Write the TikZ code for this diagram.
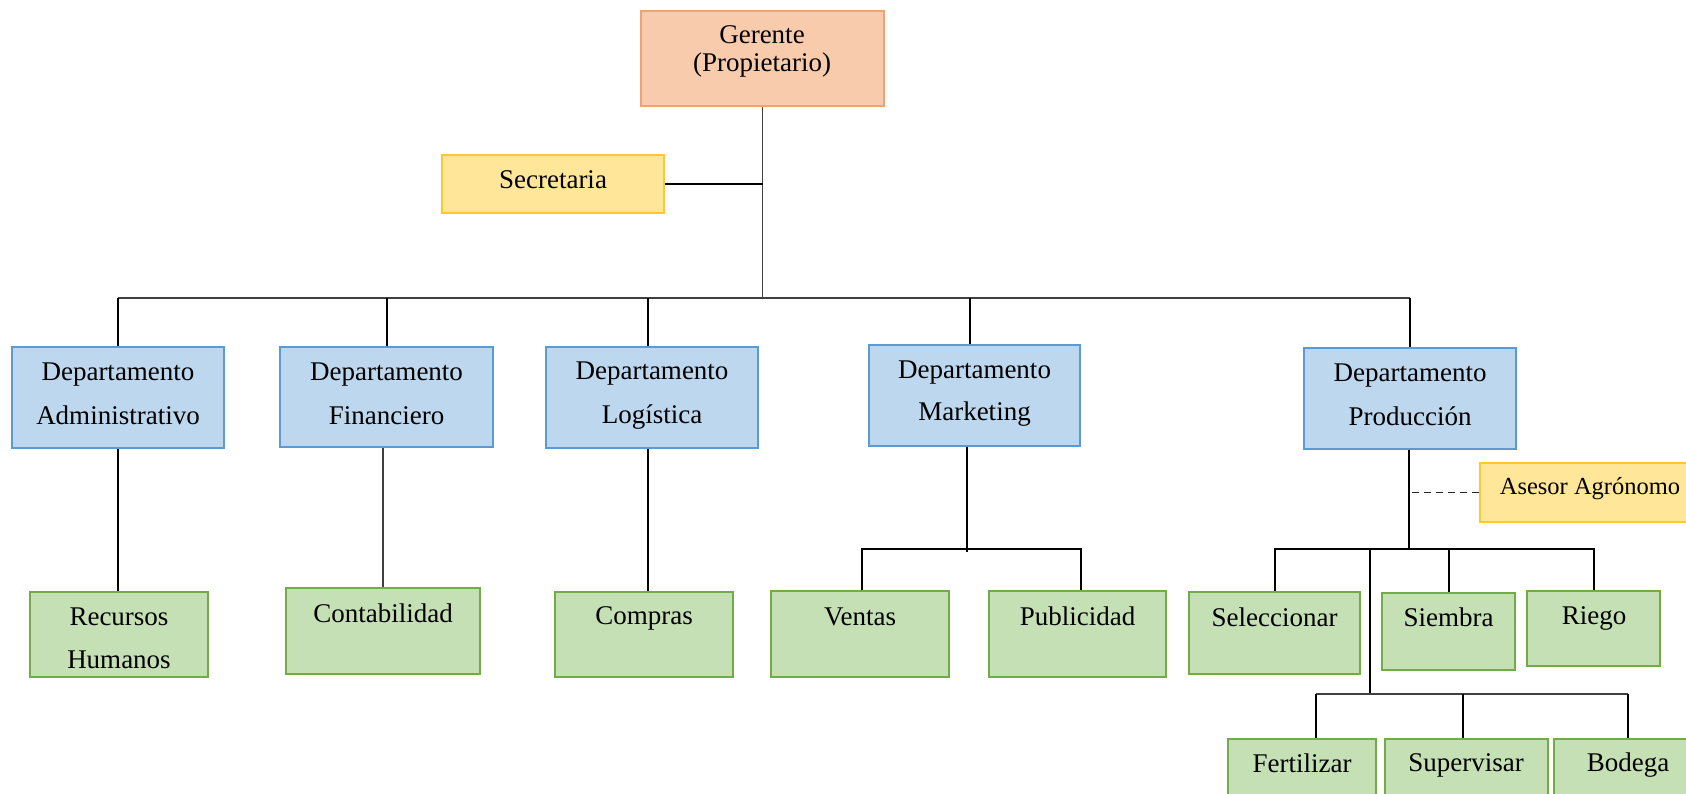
\documentclass[tikz,border=0pt]{standalone}
\usepackage{fontspec}
\setmainfont{Liberation Serif}
\definecolor{gerfill}{HTML}{F8CBAD}
\definecolor{gerdraw}{HTML}{F1A271}
\definecolor{secfill}{HTML}{FFE699}
\definecolor{secdraw}{HTML}{FFC82E}
\definecolor{depfill}{HTML}{BDD7EE}
\definecolor{depdraw}{HTML}{5B9BD5}
\definecolor{grnfill}{HTML}{C5E0B4}
\definecolor{grndraw}{HTML}{70AD47}
\newcommand\mystr{\rule[-4pt]{0pt}{22pt}}
\begin{document}
\begin{tikzpicture}[x=1pt,y=-1pt,
  orgbox/.style={draw, line width=1.5pt, rectangle, inner sep=0pt},
  gerbox/.style={orgbox, draw=gerdraw, fill=gerfill},
  secbox/.style={orgbox, draw=secdraw, fill=secfill},
  depbox/.style={orgbox, draw=depdraw, fill=depfill},
  grnbox/.style={orgbox, draw=grndraw, fill=grnfill},
  lbl/.style={inner sep=0pt, align=center, yshift=-2.5pt, font=\fontsize{27}{44}\selectfont},
  conn/.style={line width=2pt, black},
  thinconn/.style={line width=1.4pt, black!75},
  dashconn/.style={line width=1.8pt, black!85, dash pattern=on 7pt off 5pt}]
\useasboundingbox (0,0) rectangle (1686,793);
\fill[white] (0,0) rectangle (1686,793);

% boxes
\node[gerbox, minimum width=243pt, minimum height=95pt] (ger) at (762.5,58.5) {};
\node[secbox, minimum width=222pt, minimum height=58pt] (sec) at (553,184) {};
\node[depbox, minimum width=212pt, minimum height=101pt] (adm) at (118,397.5) {};
\node[depbox, minimum width=213pt, minimum height=100pt] (fin) at (386.5,397) {};
\node[depbox, minimum width=212pt, minimum height=101pt] (log) at (652,397.5) {};
\node[depbox, minimum width=211pt, minimum height=101pt] (mkt) at (974.5,395.5) {};
\node[depbox, minimum width=212pt, minimum height=101pt] (prod) at (1410,398.5) {};
\node[secbox, minimum width=220pt, minimum height=59pt] (ase) at (1590,492.5) {};
\node[grnbox, minimum width=178pt, minimum height=85pt] (rh) at (119,634.5) {};
\node[grnbox, minimum width=194pt, minimum height=86pt] (cont) at (383,631) {};
\node[grnbox, minimum width=178pt, minimum height=85pt] (comp) at (644,634.5) {};
\node[grnbox, minimum width=178pt, minimum height=86pt] (vent) at (860,634) {};
\node[grnbox, minimum width=177pt, minimum height=86pt] (pub) at (1077.5,634) {};
\node[grnbox, minimum width=171pt, minimum height=82pt] (sel) at (1274.5,633) {};
\node[grnbox, minimum width=133pt, minimum height=77pt] (siem) at (1448.5,631.5) {};
\node[grnbox, minimum width=133pt, minimum height=75pt] (rieg) at (1593.5,628.5) {};
\node[grnbox, minimum width=148pt, minimum height=71pt] (fert) at (1302,774.5) {};
\node[grnbox, minimum width=163pt, minimum height=71pt] (sup) at (1466.5,774.5) {};
\node[grnbox, minimum width=148pt, minimum height=71pt] (bod) at (1628,774.5) {};

% texts
\node[lbl, font=\fontsize{27}{28}\selectfont] (tger) at (762,49) {\mystr Gerente\\\mystr (Propietario)};
\node[lbl] (tsec) at (553,179) {\mystr Secretaria};
\node[lbl] (tadm) at (118,393) {\mystr Departamento\\\mystr Administrativo};
\node[lbl] (tfin) at (386.5,393) {\mystr Departamento\\\mystr Financiero};
\node[lbl] (tlog) at (652,392.5) {\mystr Departamento\\\mystr Logística};
\node[lbl, font=\fontsize{27}{42}\selectfont] (tmkt) at (974.5,391) {\mystr Departamento\\\mystr Marketing};
\node[lbl] (tprod) at (1410,394) {\mystr Departamento\\\mystr Producción};
\node[lbl, font=\fontsize{24.5}{30}\selectfont] (tase) at (1590,486) {\mystr Asesor Agrónomo};
\node[lbl, font=\fontsize{27}{43}\selectfont] (trh) at (119,637.5) {\mystr Recursos\\\mystr Humanos};
\node[lbl] (tcont) at (383,613) {\mystr Contabilidad};
\node[lbl] (tcomp) at (644,616) {\mystr Compras};
\node[lbl] (tvent) at (860,616) {\mystr Ventas};
\node[lbl] (tpub) at (1077.5,616) {\mystr Publicidad};
\node[lbl] (tsel) at (1274.5,617) {\mystr Seleccionar};
\node[lbl] (tsiem) at (1448.5,617) {\mystr Siembra};
\node[lbl] (trieg) at (1594,616) {\mystr Riego};
\node[lbl] (tfert) at (1302,763) {\mystr Fertilizar};
\node[lbl] (tsup) at (1466,763) {\mystr Supervisar};
\node[lbl] (tbod) at (1628,763) {\mystr Bodega};

% junction coordinates
\coordinate (bar) at (762.5,298);
\coordinate (mktd) at (970,298);
\coordinate (logd) at (648,0);
\coordinate (mj) at (967,549);
\coordinate (mjend) at (967,552);
\coordinate (mvl) at (862,549);
\coordinate (mvr) at (1081,549);
\coordinate (pj) at (1409,549);
\coordinate (lj) at (1370,549);
\coordinate (lb) at (1370,694);
\coordinate (l1) at (1316,694);
\coordinate (l2) at (1463,694);
\coordinate (l3) at (1628,694);

% connectors
\draw[thinconn] (ger.south) -- (bar);
\draw[conn] (sec.east) -- (sec.east -| ger.south);
\draw[thinconn] (adm.north |- bar) -- (prod.north |- bar);
\draw[conn] (adm.north |- bar) -- (adm.north);
\draw[conn] (fin.north |- bar) -- (fin.north);
\draw[conn] (logd |- bar) -- (logd |- log.north);
\draw[conn] (mktd) -- (mktd |- mkt.north);
\draw[conn] (prod.north |- bar) -- (prod.north);

\draw[conn] (adm.south) -- (adm.south |- rh.north);
\draw[thinconn] (cont.north |- fin.south) -- (cont.north);
\draw[conn] (logd |- log.south) -- (logd |- comp.north);

\draw[conn] (mj |- mkt.south) -- (mjend);
\draw[conn] (mvl |- vent.north) -- (mvl) -- (mvr) -- (mvr |- pub.north);

\draw[conn] (pj |- prod.south) -- (pj);
\draw[dashconn] (ase.west) -- (ase.west -| pj);
\draw[conn] (sel.north) -- (sel.north |- pj) -- (rieg.north |- pj) -- (rieg.north);
\draw[conn] (siem.north |- pj) -- (siem.north);
\draw[conn] (lj) -- (lb);
\draw[thinconn] (l1) -- (l3);
\draw[conn] (l1) -- (l1 |- fert.north);
\draw[conn] (l2) -- (l2 |- sup.north);
\draw[conn] (l3) -- (l3 |- bod.north);
\end{tikzpicture}
\end{document}
